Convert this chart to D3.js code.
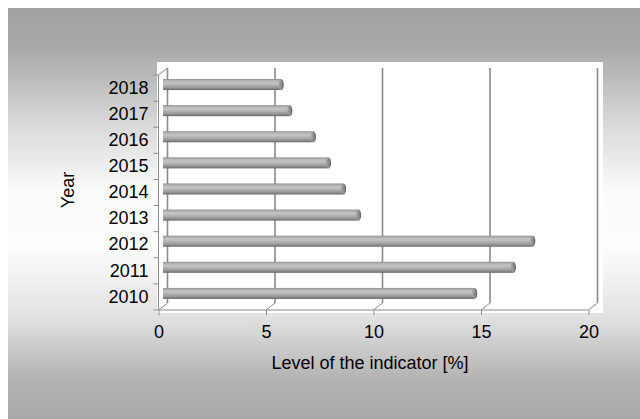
<!DOCTYPE html>
<html>
<head>
<meta charset="utf-8">
<script src="https://cdn.jsdelivr.net/npm/d3@7"></script>
<style>
  html, body { margin: 0; padding: 0; background: #fff; }
  svg { display: block; }
  text { font-family: "Liberation Sans", Arial, sans-serif; fill: #000; }
</style>
</head>
<body>
<svg id="chart" width="640" height="419"></svg>
<script>
// Indicator level by year
const years = ["2010", "2011", "2012", "2013", "2014", "2015", "2016", "2017", "2018"];
const levels = [14.5, 16.3, 17.2, 9.1, 8.4, 7.7, 7.0, 5.9, 5.5];
const xTicks = [0, 5, 10, 15, 20];
const xTitle = "Level of the indicator [%]";
const yTitle = "Year";

const W = 640, H = 419;
const fontSize = 18;
const svg = d3.select("#chart");
const defs = svg.append("defs");

// Panel background gradient
const bg = defs.append("linearGradient").attr("id", "bg")
  .attr("x1", 0).attr("y1", 0).attr("x2", 0).attr("y2", 1);
[[0, "#a2a2a2"], [0.1, "#a9a9a9"], [0.28, "#d8d8d8"], [0.45, "#fcfcfc"],
 [0.58, "#fdfdfd"], [0.75, "#e2e2e2"], [0.9, "#b4b4b4"], [1, "#a8a8a8"]]
  .forEach(([o, c]) => bg.append("stop").attr("offset", o).attr("stop-color", c));

// Cylinder shading for bars
const barGrad = defs.append("linearGradient").attr("id", "barGrad")
  .attr("x1", 0).attr("y1", 0).attr("x2", 0).attr("y2", 1);
[[0, "#858585"], [0.12, "#b0b0b0"], [0.35, "#c4c4c4"], [0.55, "#b2b2b2"],
 [0.8, "#959595"], [1, "#666666"]]
  .forEach(([o, c]) => barGrad.append("stop").attr("offset", o).attr("stop-color", c));
const capGrad = defs.append("linearGradient").attr("id", "capGrad")
  .attr("x1", 0).attr("y1", 0).attr("x2", 1).attr("y2", 0);
[[0, "#a4a4a4"], [0.6, "#8a8a8a"], [1, "#5a5a5a"]]
  .forEach(([o, c]) => capGrad.append("stop").attr("offset", o).attr("stop-color", c));

svg.append("rect").attr("x", 8).attr("y", 8).attr("width", W - 8).attr("height", H - 8)
  .attr("fill", "url(#bg)");

// Plot area
svg.append("rect").attr("x", 157).attr("y", 62).attr("width", 446).attr("height", 251)
  .attr("fill", "#fff");

// Front-plane scales; back wall is shifted by a depth offset
const x = d3.scaleLinear().domain([0, 20]).range([158.5, 588.5]);
const y = d3.scaleBand().domain(years).range([310, 75]).paddingInner(0).paddingOuter(0);
const dx = 9, dy = -7;
const yTop = 75, yBottom = 310;

const grid = svg.append("g").attr("stroke", "#8a8a8a").attr("fill", "none");
// Back wall vertical gridlines
grid.selectAll("line.v").data(xTicks).join("line").attr("class", "v")
  .attr("x1", d => x(d) + dx).attr("x2", d => x(d) + dx)
  .attr("y1", yTop + dy).attr("y2", yBottom + dy)
  .attr("stroke-width", 1.6);
// Floor diagonals from front ticks to back wall
grid.selectAll("line.f").data(xTicks).join("line").attr("class", "f")
  .attr("x1", d => x(d)).attr("y1", yBottom)
  .attr("x2", d => x(d) + dx).attr("y2", yBottom + dy)
  .attr("stroke-width", 1);
// Left wall top diagonal and front edges
grid.append("line").attr("x1", x(0)).attr("y1", yTop).attr("x2", x(0) + dx).attr("y2", yTop + dy);
grid.append("line").attr("x1", x(0)).attr("y1", yTop).attr("x2", x(0)).attr("y2", yBottom);
grid.append("line").attr("x1", x(0)).attr("y1", yBottom).attr("x2", x(20)).attr("y2", yBottom);

// Bars, placed at mid depth
const bh = 11;
const bars = svg.append("g").selectAll("g").data(years.map((yr, i) => ({ yr, v: levels[i] }))).join("g")
  .attr("transform", d => `translate(${dx / 2},${y(d.yr) + y.bandwidth() / 2 + dy / 2})`);
bars.append("rect")
  .attr("x", x(0)).attr("y", -bh / 2)
  .attr("width", d => x(d.v) - x(0)).attr("height", bh)
  .attr("fill", "url(#barGrad)");
bars.append("ellipse")
  .attr("cx", d => x(d.v)).attr("cy", 0).attr("rx", 2.5).attr("ry", bh / 2)
  .attr("fill", "url(#capGrad)");

// X axis
const xAxis = svg.append("g").attr("transform", `translate(0,${yBottom})`)
  .call(d3.axisBottom(x).tickValues(xTicks).tickFormat(d3.format("d")).tickSize(5).tickPadding(10));
xAxis.select(".domain").remove();
xAxis.selectAll("line").attr("stroke", "#8a8a8a");
xAxis.selectAll("text").attr("font-size", fontSize).attr("fill", "#000");

// Y axis: labels at band centres, ticks at band edges
const yAxis = svg.append("g").attr("transform", `translate(${x(0)},0)`)
  .call(d3.axisLeft(y).tickSize(0).tickPadding(10));
yAxis.select(".domain").remove();
yAxis.selectAll("text").attr("font-size", fontSize).attr("fill", "#000");
const edges = years.map(yr => y(yr)).concat([yBottom]);
svg.append("g").selectAll("line").data(edges).join("line")
  .attr("x1", x(0) - 5).attr("x2", x(0)).attr("y1", d => d).attr("y2", d => d)
  .attr("stroke", "#8a8a8a");

// Axis titles
svg.append("text").attr("x", 370).attr("y", 369).attr("text-anchor", "middle")
  .attr("font-size", fontSize).text(xTitle);
svg.append("text").attr("transform", "translate(74,190) rotate(-90)").attr("text-anchor", "middle")
  .attr("font-size", fontSize).text(yTitle);
</script>
</body>
</html>
